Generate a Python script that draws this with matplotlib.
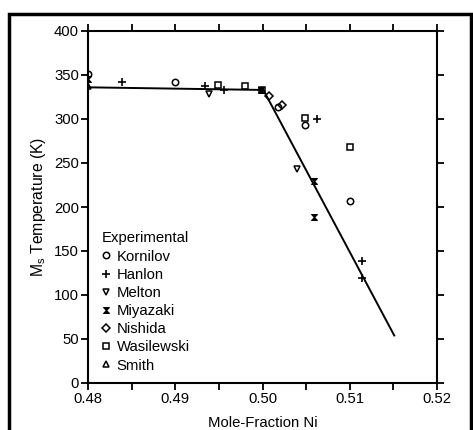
import matplotlib
matplotlib.use("Agg")
import matplotlib.pyplot as plt
from matplotlib.path import Path
from matplotlib.patches import Rectangle
from matplotlib.ticker import MultipleLocator

plt.rcParams['font.family'] = ['Liberation Sans', 'DejaVu Sans']

# Data (mole fraction Ni, Ms temperature K)
kornilov_x = [0.480, 0.490, 0.5018, 0.5049, 0.5100]
kornilov_y = [351, 342, 314, 293, 207]
hanlon_x = [0.4839, 0.4934, 0.4956, 0.5062, 0.5114, 0.5114]
hanlon_y = [342, 337, 333, 300, 139, 119]
melton_x = [0.4939, 0.5039]
melton_y = [328, 243]
miyazaki_x = [0.480, 0.4998, 0.5059, 0.5059]
miyazaki_y = [345, 333, 229, 189]
nishida_x = [0.5007, 0.5022]
nishida_y = [326, 316]
wasilewski_x = [0.4949, 0.4980, 0.4999, 0.5049, 0.5100]
wasilewski_y = [339, 338, 333, 301, 268]
smith_x = [0.480]
smith_y = [337]

fit_x = [0.480, 0.5001, 0.5151]
fit_y = [336, 333, 54]

W, H = 473, 430
fig = plt.figure(figsize=(W / 100, H / 100), dpi=100)
ax = fig.add_axes([88 / W, 1 - 383 / H, (437 - 88) / W, (383 - 31) / H])

# outer frame of the picture
fig.patches.append(Rectangle((9 / W, -0.05), (462 / W), 1 + 0.05 - 14 / H,
                             transform=fig.transFigure, fill=False,
                             edgecolor='black', linewidth=2.5))

hourglass = Path([(-1, 1), (1, 1), (-1, -1), (1, -1), (-1, 1)],
                 [Path.MOVETO, Path.LINETO, Path.LINETO, Path.LINETO, Path.CLOSEPOLY])

ms = 4.6
kw = dict(linestyle='none', color='black', markerfacecolor='none',
          markeredgewidth=1.1, markersize=ms)
ax.plot(fit_x, fit_y, color='black', linewidth=1.4, zorder=2)
ax.plot(kornilov_x, kornilov_y, marker='o', label='Kornilov', **kw)
ax.plot(hanlon_x, hanlon_y, marker='+', label='Hanlon',
        linestyle='none', color='black', markersize=ms + 1, markeredgewidth=1.2)
ax.plot(melton_x, melton_y, marker='v', label='Melton', **kw)
ax.plot(miyazaki_x, miyazaki_y, marker=hourglass, label='Miyazaki',
        linestyle='none', color='black', markerfacecolor='black',
        markersize=ms - 0.4, markeredgewidth=0.8)
ax.plot(nishida_x, nishida_y, marker='D', label='Nishida',
        linestyle='none', color='black', markerfacecolor='none',
        markeredgewidth=1.1, markersize=ms - 0.8)
ax.plot(wasilewski_x, wasilewski_y, marker='s', label='Wasilewski', **kw)
ax.plot(smith_x, smith_y, marker='^', label='Smith',
        linestyle='none', color='black', markerfacecolor='none',
        markeredgewidth=1.1, markersize=ms)

ax.set_xlim(0.48, 0.52)
ax.set_ylim(0, 400)
ax.xaxis.set_minor_locator(MultipleLocator(0.005))
ax.yaxis.set_major_locator(MultipleLocator(50))
ax.set_xticks([0.48, 0.49, 0.50, 0.51, 0.52])
ax.set_xticklabels(['0.48', '0.49', '0.50', '0.51', '0.52'])

fs = 10.7
for s in ax.spines.values():
    s.set_linewidth(1.5)
ax.tick_params(which='both', direction='out', top=True, right=True,
               labeltop=False, labelright=False, width=1.3, labelsize=fs,
               colors='black', pad=1.5)
ax.tick_params(which='major', length=5)
ax.tick_params(which='minor', length=5)

ax.set_xlabel('Mole-Fraction Ni', fontsize=fs, labelpad=7)
ax.set_ylabel(r'M$_\mathregular{s}$ Temperature (K)', fontsize=fs + 0.6, labelpad=4)

leg = ax.legend(title='Experimental', loc='lower left',
                bbox_to_anchor=(0.01, 0.0), frameon=False, fontsize=fs,
                title_fontsize=fs, handlelength=0.6, handletextpad=0.4,
                labelspacing=0.28, borderpad=0.2, markerscale=1.0,
                alignment='left')

fig.savefig('out.png', dpi=100)
